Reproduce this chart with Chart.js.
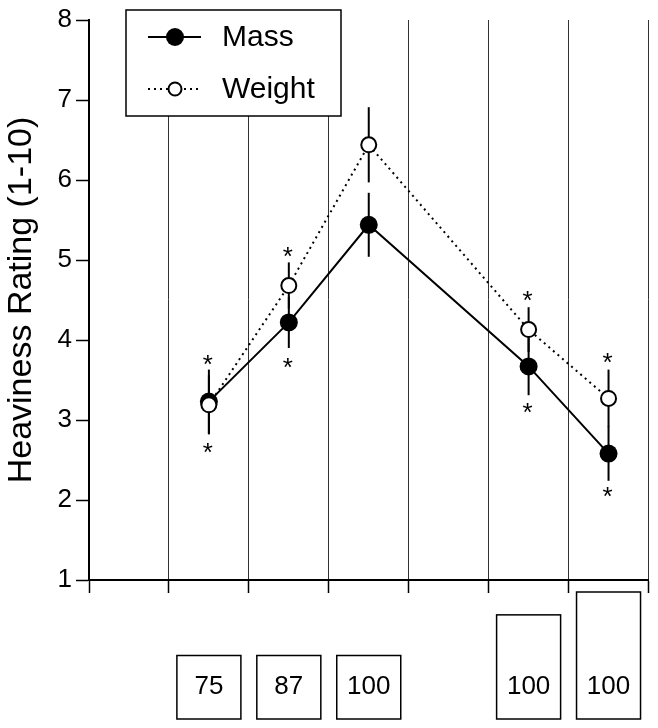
<!DOCTYPE html>
<html>
<head>
<meta charset="utf-8">
<script src="https://cdn.jsdelivr.net/npm/chart.js@4/dist/chart.umd.min.js"></script>
<style>
  html, body { margin: 0; padding: 0; background: #fff; }
  #wrap { width: 658px; height: 728px; position: relative; }
</style>
</head>
<body>
<div id="wrap"><canvas id="chart"></canvas></div>
<script>
// conditions along the x axis (7 slots, two are empty)
const categories = ["", "75", "87", "100a", "", "100b", "100c"];

const massValues   = [null, 3.23, 4.22, 5.44, null, 3.67, 2.58];
const massErrors   = [null, 0.40, 0.32, 0.40, null, 0.36, 0.34];
const weightValues = [null, 3.19, 4.68, 6.44, null, 4.13, 3.27];
const weightErrors = [null, 0.37, 0.29, 0.47, null, 0.28, 0.36];

// significance asterisks (value where the * sits)
const starsAbove = [null, 3.78, 5.13, null, null, 4.58, 3.80];
const starsBelow = [null, 2.67, 3.74, null, null, 3.17, 2.12];

// stimulus boxes under the axis
const boxLabels = [null, "75", "87", "100", null, "100", "100"];
const boxSizes  = [null, 1, 1, 1, null, 1.64, 2];

const yTicks = [1, 2, 3, 4, 5, 6, 7, 8];

const FONT = "'Liberation Sans', Arial, Helvetica, sans-serif";

const errorBars = {
  id: "errorBars",
  beforeDatasetsDraw(chart) {
    const { ctx, scales: { x, y } } = chart;
    ctx.save();
    ctx.strokeStyle = "#000";
    ctx.lineWidth = 2;
    const draw = (vals, errs) => {
      vals.forEach((v, i) => {
        if (v == null) return;
        const px = x.getPixelForValue(i);
        ctx.beginPath();
        ctx.moveTo(px, y.getPixelForValue(v + errs[i]));
        ctx.lineTo(px, y.getPixelForValue(v - errs[i]));
        ctx.stroke();
      });
    };
    draw(massValues, massErrors);
    draw(weightValues, weightErrors);
    ctx.restore();
  }
};

const extras = {
  id: "extras",
  afterDraw(chart) {
    const { ctx, chartArea, scales: { x, y } } = chart;
    ctx.save();

    // asterisks
    ctx.fillStyle = "#000";
    ctx.font = "26px " + FONT;
    ctx.textAlign = "center";
    ctx.textBaseline = "alphabetic";
    const star = (vals) => vals.forEach((v, i) => {
      if (v == null) return;
      ctx.fillText("*", x.getPixelForValue(i) - 1, y.getPixelForValue(v) + 15);
    });
    star(starsAbove);
    star(starsBelow);

    // legend box
    const lx = chartArea.left + 37, ly = chartArea.top - 10;
    ctx.fillStyle = "#fff";
    ctx.fillRect(lx, ly, 215, 106);
    ctx.strokeStyle = "#000";
    ctx.lineWidth = 1.5;
    ctx.strokeRect(lx, ly, 215, 106);

    ctx.lineWidth = 2;
    ctx.beginPath();
    ctx.moveTo(lx + 22, ly + 27);
    ctx.lineTo(lx + 75, ly + 27);
    ctx.stroke();
    ctx.fillStyle = "#000";
    ctx.beginPath();
    ctx.arc(lx + 49, ly + 27, 9, 0, Math.PI * 2);
    ctx.fill();

    ctx.setLineDash([2, 4]);
    ctx.beginPath();
    ctx.moveTo(lx + 22, ly + 79);
    ctx.lineTo(lx + 75, ly + 79);
    ctx.stroke();
    ctx.setLineDash([]);
    ctx.fillStyle = "#fff";
    ctx.beginPath();
    ctx.arc(lx + 49, ly + 79, 6.5, 0, Math.PI * 2);
    ctx.fill();
    ctx.stroke();

    ctx.fillStyle = "#000";
    ctx.font = "30px " + FONT;
    ctx.textAlign = "left";
    ctx.textBaseline = "middle";
    ctx.fillText("Mass", lx + 96, ly + 28);
    ctx.fillText("Weight", lx + 96, ly + 80);

    // stimulus boxes
    const bottom = chart.height - 9;
    ctx.lineWidth = 1.5;
    ctx.font = "26px " + FONT;
    ctx.textAlign = "center";
    boxSizes.forEach((s, i) => {
      if (s == null) return;
      const cx = x.getPixelForValue(i);
      const h = 63.5 * s;
      ctx.strokeRect(cx - 32, bottom - h, 64, h);
      ctx.fillText(boxLabels[i], cx, bottom - 32);
    });

    ctx.restore();
  }
};

new Chart(document.getElementById("chart"), {
  type: "line",
  data: {
    labels: categories,
    datasets: [
      {
        label: "Weight",
        data: weightValues,
        order: 0,
        spanGaps: true,
        borderColor: "#000",
        borderWidth: 2,
        borderDash: [2, 4],
        pointRadius: 7.5,
        pointBorderWidth: 2,
        pointBackgroundColor: "#fff",
        pointBorderColor: "#000",
        tension: 0
      },
      {
        label: "Mass",
        data: massValues,
        order: 1,
        spanGaps: true,
        borderColor: "#000",
        borderWidth: 2,
        pointRadius: 9,
        pointBorderWidth: 0,
        pointBackgroundColor: "#000",
        tension: 0
      }
    ]
  },
  options: {
    responsive: true,
    maintainAspectRatio: false,
    animation: false,
    layout: { padding: { top: 20, right: 9, left: 0, bottom: 0 } },
    plugins: { legend: { display: false }, tooltip: { enabled: false } },
    scales: {
      x: {
        offset: true,
        grid: {
          offset: true,
          color: "#333",
          lineWidth: 1,
          tickColor: "#000",
          tickWidth: 1.5,
          tickLength: 13
        },
        border: { color: "#000", width: 2 },
        ticks: { display: false },
        afterFit(scale) { scale.height = 148; }
      },
      y: {
        min: 1,
        max: 8,
        afterBuildTicks(scale) { scale.ticks = yTicks.map(v => ({ value: v })); },
        grid: {
          drawOnChartArea: false,
          tickColor: "#000",
          tickWidth: 1.5,
          tickLength: 13
        },
        border: { color: "#000", width: 2 },
        ticks: {
          color: "#000",
          padding: 4,
          font: { family: FONT, size: 26 }
        },
        title: {
          display: true,
          text: "Heaviness Rating (1-10)",
          color: "#000",
          padding: 1,
          font: { family: FONT, size: 34 }
        },
        afterFit(scale) { scale.width = 89; }
      }
    }
  },
  plugins: [errorBars, extras]
});
</script>
</body>
</html>
